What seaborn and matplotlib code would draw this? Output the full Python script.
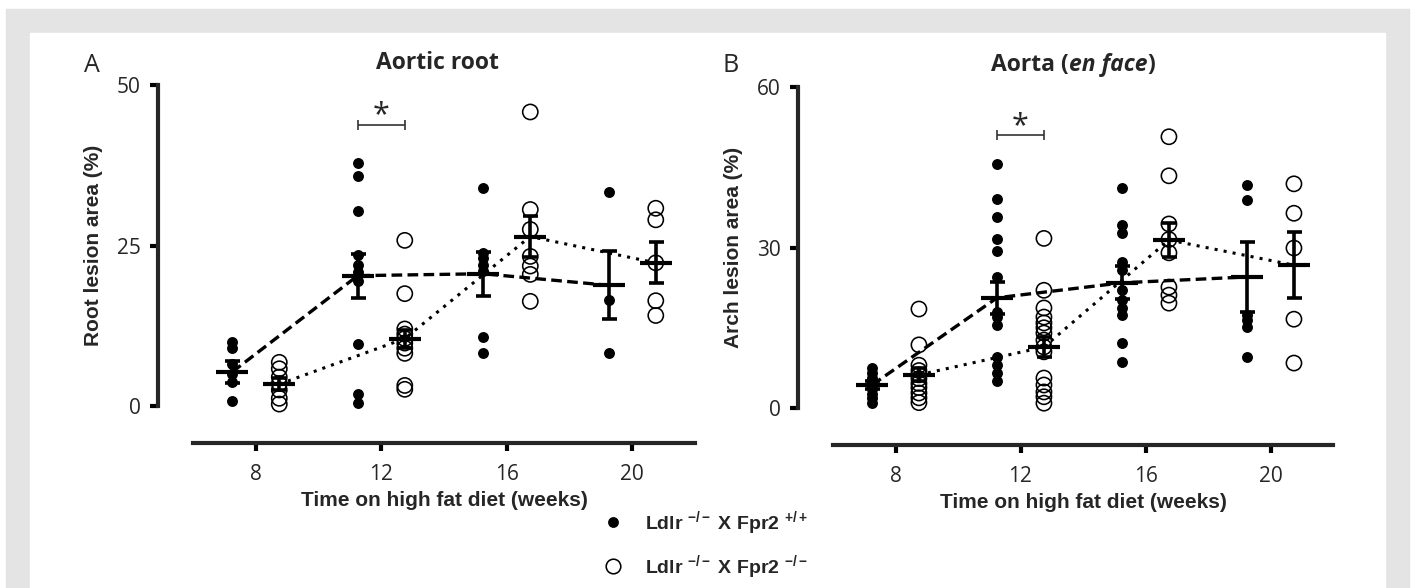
import numpy as np
import pandas as pd
import matplotlib
matplotlib.use("Agg")
import matplotlib.pyplot as plt
import seaborn as sns
from matplotlib.patches import Rectangle
from matplotlib.lines import Line2D

# ---- data ----
weeks = [8, 12, 16, 20]
shift = 0.75  # Fpr2+/+ sits left of the tick, Fpr2-/- right

# aortic root lesion area (%)
root_wt = [
    [10.0, 9.0, 6.5, 5.0, 3.8, 0.8],
    [37.8, 35.8, 30.3, 23.5, 22.0, 20.8, 19.5, 9.7, 1.9, 0.5],
    [33.9, 23.9, 23.0, 22.0, 21.0, 10.8, 8.3],
    [33.4, 16.5, 8.2],
]
root_ko = [
    [6.8, 5.8, 4.5, 3.5, 2.5, 1.2, 0.3],
    [25.8, 17.5, 12.0, 11.2, 10.5, 9.8, 9.0, 8.2, 3.2, 2.6],
    [45.8, 30.6, 27.5, 23.3, 21.8, 20.5, 16.3],
    [30.8, 29.0, 22.3, 16.4, 14.1],
]
root_wt_mean = [5.3, 20.3, 20.6, 18.8]
root_wt_sem = [1.7, 3.4, 3.4, 5.3]
root_ko_mean = [3.4, 10.5, 26.4, 22.3]
root_ko_sem = [0.9, 1.4, 3.2, 3.2]

# aortic arch (en face) lesion area (%)
arch_wt = [
    [7.5, 6.6, 5.7, 4.8, 4.2, 3.6, 2.7, 1.8, 1.0],
    [45.6, 39.1, 35.7, 31.6, 29.3, 24.5, 18.0, 17.0, 15.5, 9.5, 8.0, 6.5, 5.0],
    [41.1, 34.2, 32.7, 27.3, 25.8, 22.0, 20.2, 18.7, 17.4, 12.1, 8.6],
    [41.7, 38.9, 17.4, 16.4, 15.2, 9.5],
]
arch_ko = [
    [18.5, 11.8, 8.0, 7.0, 6.2, 5.5, 4.6, 3.8, 2.8, 1.9, 1.0],
    [31.7, 22.0, 18.7, 17.0, 15.9, 15.0, 14.0, 12.7, 11.4, 10.5, 5.6, 4.3, 3.0, 2.1, 0.9],
    [50.7, 43.4, 34.4, 31.5, 29.0, 22.6, 21.1, 19.6],
    [41.9, 36.4, 29.9, 16.6, 8.4],
]
arch_wt_mean = [4.3, 20.6, 23.4, 24.5]
arch_wt_sem = [0.7, 3.0, 3.1, 6.5]
arch_ko_mean = [6.2, 11.4, 31.4, 26.7]
arch_ko_sem = [1.2, 1.9, 3.2, 6.2]

legend_labels = [r"Ldlr $^{-/-}$ X Fpr2 $^{+/+}$", r"Ldlr $^{-/-}$ X Fpr2 $^{-/-}$"]

W, H = 1413, 588
LABEL_FONT = "Liberation Sans"


def set_style():
    sns.set_style("ticks")
    plt.rcParams["font.family"] = ["Open Sans", "DejaVu Sans"]
    plt.rcParams["mathtext.fontset"] = "custom"
    plt.rcParams["mathtext.rm"] = "Liberation Sans:bold"
    plt.rcParams["mathtext.bf"] = "Liberation Sans:bold"
    plt.rcParams["mathtext.it"] = "Liberation Sans:italic:bold"


def long_table(values, sign):
    rows = []
    for wk, vals in zip(weeks, values):
        for v in vals:
            rows.append({"week": wk, "x": wk + sign * shift, "value": v})
    return pd.DataFrame(rows)


def mean_table(means, sems, sign):
    return pd.DataFrame({"x": [w + sign * shift for w in weeks], "mean": means, "sem": sems})


def draw_panel(ax, wt, ko, wt_m, wt_s, ko_m, ko_s, ymax, bracket_y):
    df_wt = long_table(wt, -1)
    df_ko = long_table(ko, +1)
    m_wt = mean_table(wt_m, wt_s, -1)
    m_ko = mean_table(ko_m, ko_s, +1)

    # group means joined by lines
    sns.lineplot(data=m_wt, x="x", y="mean", ax=ax, color="black", lw=2.4,
                 linestyle=(0, (3.2, 1.6)), marker="_", markersize=23,
                 markeredgewidth=3, markeredgecolor="black",
                 clip_on=False, zorder=4)
    sns.lineplot(data=m_ko, x="x", y="mean", ax=ax, color="black", lw=2.2,
                 linestyle=(0, (1, 2)), marker="_", markersize=23,
                 markeredgewidth=3, markeredgecolor="black",
                 clip_on=False, zorder=4)
    for m in (m_wt, m_ko):
        ax.errorbar(m["x"], m["mean"], yerr=m["sem"], fmt="none", ecolor="black",
                    elinewidth=2.6, capsize=5.4, capthick=2.6, zorder=4, clip_on=False)

    # individual animals
    sns.scatterplot(data=df_wt, x="x", y="value", ax=ax, color="black", s=62,
                    linewidth=0, clip_on=False, zorder=3, legend=False)
    sns.scatterplot(data=df_ko, x="x", y="value", ax=ax, color="black",
                    facecolors="none", edgecolor="black", s=120, linewidth=1.15,
                    clip_on=False, zorder=3, legend=False)

    # significance bracket at week 12
    x1, x2 = 12 - shift, 12 + shift
    ax.errorbar((x1 + x2) / 2, bracket_y, xerr=(x2 - x1) / 2, fmt="none",
                ecolor="#333333", elinewidth=1.2, capsize=3.6, capthick=1.2, clip_on=False)
    ax.annotate("*", xy=((x1 + x2) / 2, bracket_y), xytext=(0, 1),
                textcoords="offset points", ha="center", va="baseline", fontsize=22)

    ax.set_xlim(6, 22)
    ax.set_ylim(0, ymax)
    ax.set_xticks(weeks)
    ax.set_yticks([0, ymax / 2, ymax])
    ax.set_yticklabels([f"{int(t)}" for t in (0, ymax / 2, ymax)])
    sns.despine(ax=ax, offset={"left": 25.5, "bottom": 26.5})
    ax.spines["left"].set_bounds(0, ymax)
    for side in ("left", "bottom"):
        ax.spines[side].set_linewidth(3)
    ax.tick_params(axis="both", width=3, length=6, labelsize=15, color="black")
    ax.tick_params(axis="y", pad=6)
    ax.tick_params(axis="x", pad=9.5)

    ax.set_xlabel("Time on high fat diet (weeks)", fontsize=15, fontweight="bold",
                  family=LABEL_FONT)
    ax.xaxis.set_label_coords(0.5, -0.265)


def place_title(fig, parts, cx_px, base_px, size=16.5):
    fig.canvas.draw()
    renderer = fig.canvas.get_renderer()
    texts = [fig.text(0, 1 - base_px / H, s, fontsize=size, fontweight="bold",
                      fontstyle=st, va="baseline", ha="left") for s, st in parts]
    widths = [t.get_window_extent(renderer).width for t in texts]
    x = cx_px - sum(widths) / 2
    for t, w in zip(texts, widths):
        t.set_x(x / W)
        x += w


def main():
    set_style()
    fig = plt.figure(figsize=(W / 100, H / 100), dpi=100)
    fig.patch.set_facecolor("white")
    fig.patches.append(Rectangle((6 / W, 0), (1409 - 6) / W, (H - 9) / H,
                                 transform=fig.transFigure, color="#e4e4e4", zorder=-10))
    fig.patches.append(Rectangle((30 / W, 0), (1385 - 30) / W, (H - 33) / H,
                                 transform=fig.transFigure, color="white", zorder=-9))

    ax_a = fig.add_axes([193 / W, 1 - 406 / H, 502 / W, 321 / H])
    ax_b = fig.add_axes([833 / W, 1 - 408 / H, 500 / W, 321 / H])
    for ax in (ax_a, ax_b):
        ax.patch.set_alpha(0)

    draw_panel(ax_a, root_wt, root_ko, root_wt_mean, root_wt_sem,
               root_ko_mean, root_ko_sem, 50, 43.8)
    draw_panel(ax_b, arch_wt, arch_ko, arch_wt_mean, arch_wt_sem,
               arch_ko_mean, arch_ko_sem, 60, 51.0)

    ax_a.set_ylabel("Root lesion area (%)", fontsize=15, fontweight="bold", family=LABEL_FONT)
    ax_b.set_ylabel("Arch lesion area (%)", fontsize=15, fontweight="bold", family=LABEL_FONT)
    ax_a.yaxis.set_label_coords(-0.18, 0.5)
    ax_b.yaxis.set_label_coords(-0.18, 0.5)

    fig.text(92 / W, 1 - 66 / H, "A", fontsize=18, ha="center", va="center")
    fig.text(731 / W, 1 - 66 / H, "B", fontsize=18, ha="center", va="center")

    place_title(fig, [("Aortic root", "normal")], 437, 69)
    place_title(fig, [("Aorta (", "normal"), ("en face", "italic"), (")", "normal")], 1073, 71)

    handles = [
        Line2D([], [], marker="o", color="black", linestyle="none", markersize=7.8, mew=0),
        Line2D([], [], marker="o", color="black", markerfacecolor="none",
               linestyle="none", markersize=10.5, mew=1.15),
    ]
    fig.legend(handles, legend_labels, loc="center left",
               bbox_to_anchor=(603 / W, 1 - 545 / H), frameon=False,
               prop={"family": LABEL_FONT, "weight": "bold", "size": 14},
               handlelength=1.0, handletextpad=1.15, labelspacing=0.85,
               borderpad=0, borderaxespad=0)

    fig.savefig("out.png", dpi=100)
    plt.close(fig)


if __name__ == "__main__":
    main()
